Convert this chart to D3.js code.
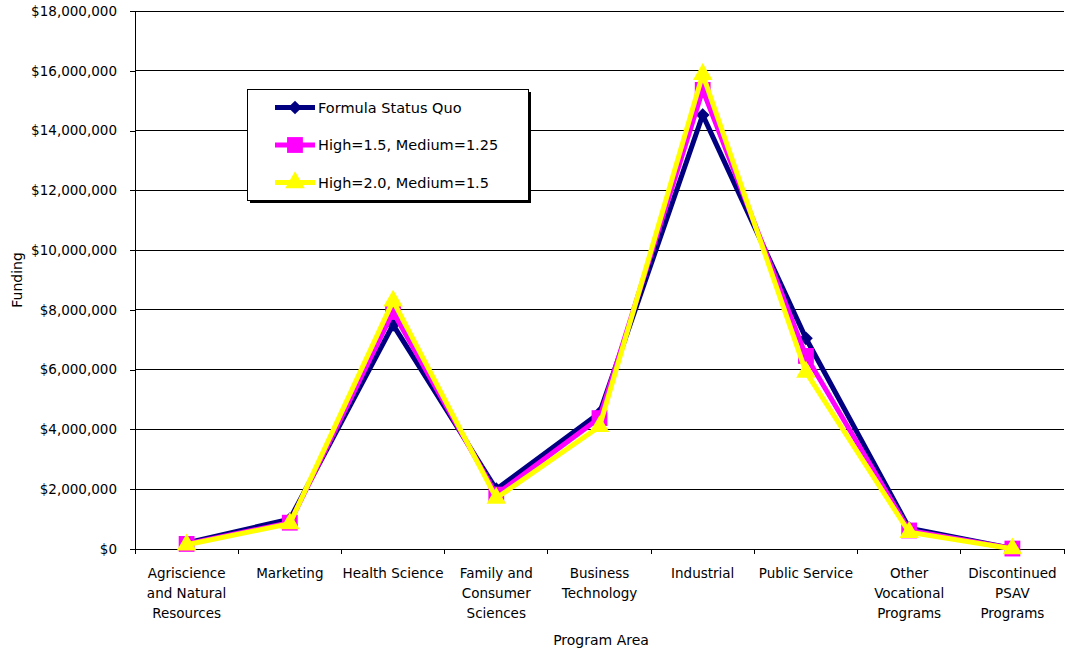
<!DOCTYPE html>
<html>
<head>
<meta charset="utf-8">
<script src="https://cdn.jsdelivr.net/npm/d3@7"></script>
<style>
  html, body { margin: 0; padding: 0; background: #fff; }
  svg { display: block; font-family: Tahoma, "DejaVu Sans", Verdana, sans-serif; }
</style>
</head>
<body>
<svg id="chart" width="1065" height="652"></svg>
<script>
// Program areas (label lines for wrapping)
const categories = [
  ["Agriscience", "and Natural", "Resources"],
  ["Marketing"],
  ["Health Science"],
  ["Family and", "Consumer", "Sciences"],
  ["Business", "Technology"],
  ["Industrial"],
  ["Public Service"],
  ["Other", "Vocational", "Programs"],
  ["Discontinued", "PSAV", "Programs"]
];

// Funding by program area, dollars
const statusQuo  = [200000, 1000000, 7500000, 2000000, 4550000, 14520000, 7050000, 700000, 20000];
const weighted15 = [170000,  880000, 7930000, 1820000, 4380000, 15360000, 6460000, 620000, 15000];
const weighted20 = [140000,  850000, 8300000, 1700000, 4100000, 15880000, 5920000, 560000, 10000];

const seriesNames = ["Formula Status Quo", "High=1.5, Medium=1.25", "High=2.0, Medium=1.5"];
const yTicks = [0, 2000000, 4000000, 6000000, 8000000, 10000000, 12000000, 14000000, 16000000, 18000000];

const series = [
  { name: seriesNames[0], values: statusQuo,  color: "#000080", symbol: d3.symbolDiamond2, size: 120 },
  { name: seriesNames[1], values: weighted15, color: "#ff00ff", symbol: d3.symbolSquare,   size: 250 },
  { name: seriesNames[2], values: weighted20, color: "#ffff00", symbol: d3.symbolTriangle, size: 165 }
];

const svg = d3.select("#chart");
const margin = { left: 135, right: 1, top: 11, bottom: 103 };
const W = 1065, H = 652;
const plotW = W - margin.left - margin.right;
const plotH = H - margin.top - margin.bottom;

const x = d3.scaleBand().domain(d3.range(categories.length)).range([margin.left, margin.left + plotW]);
const y = d3.scaleLinear().domain([0, 18000000]).range([margin.top + plotH, margin.top]);

const fontSize = 13.5;

// Horizontal gridlines
svg.append("g")
  .selectAll("line")
  .data(yTicks.slice(1))
  .join("line")
  .attr("x1", margin.left).attr("x2", margin.left + plotW)
  .attr("y1", d => y(d)).attr("y2", d => y(d))
  .attr("stroke", "#000").attr("stroke-width", 1)
  .attr("shape-rendering", "crispEdges");

// Y axis
const fmt = d => "$" + d3.format(",")(d);
const yAxis = svg.append("g")
  .attr("transform", `translate(${margin.left},0)`)
  .call(d3.axisLeft(y).tickValues(yTicks).tickFormat(fmt).tickSize(5).tickPadding(13));
yAxis.select(".domain").attr("stroke", "#000").attr("shape-rendering", "crispEdges");
yAxis.selectAll(".tick line").attr("stroke", "#000").attr("shape-rendering", "crispEdges");
yAxis.selectAll("text").attr("font-size", fontSize).attr("fill", "#000")
  .attr("font-family", "Tahoma, 'DejaVu Sans', sans-serif");

// X axis line with ticks at category boundaries
const xBase = y(0);
svg.append("line")
  .attr("x1", margin.left).attr("x2", margin.left + plotW)
  .attr("y1", xBase).attr("y2", xBase)
  .attr("stroke", "#000").attr("shape-rendering", "crispEdges");
svg.append("g")
  .selectAll("line")
  .data(d3.range(categories.length + 1))
  .join("line")
  .attr("x1", i => margin.left + i * x.step()).attr("x2", i => margin.left + i * x.step())
  .attr("y1", xBase).attr("y2", xBase + 5)
  .attr("stroke", "#000").attr("shape-rendering", "crispEdges");

// Category labels
const labelG = svg.append("g").attr("font-size", fontSize).attr("text-anchor", "middle");
categories.forEach((lines, i) => {
  const t = labelG.append("text")
    .attr("x", x(i) + x.bandwidth() / 2)
    .attr("y", xBase + 29);
  lines.forEach((ln, j) => {
    t.append("tspan").attr("x", x(i) + x.bandwidth() / 2).attr("dy", j === 0 ? 0 : 20).text(ln);
  });
});

// Axis titles
svg.append("text")
  .attr("x", 601).attr("y", 645)
  .attr("text-anchor", "middle").attr("font-size", fontSize + 0.5)
  .text("Program Area");
svg.append("text")
  .attr("transform", `translate(22, ${y(9000000)}) rotate(-90)`)
  .attr("text-anchor", "middle").attr("font-size", fontSize + 0.5)
  .text("Funding");

// Series lines and markers
const line = d3.line()
  .x((d, i) => x(i) + x.bandwidth() / 2)
  .y(d => y(d));

series.forEach(s => {
  const g = svg.append("g");
  g.append("path")
    .attr("d", line(s.values))
    .attr("fill", "none")
    .attr("stroke", s.color)
    .attr("stroke-width", 5)
    .attr("stroke-linejoin", "miter");
  g.selectAll("path.mark")
    .data(s.values)
    .join("path")
    .attr("class", "mark")
    .attr("transform", (d, i) => `translate(${x(i) + x.bandwidth() / 2},${y(d)})`)
    .attr("d", d3.symbol().type(s.symbol).size(s.size))
    .attr("fill", s.color);
});

// Legend with drop shadow
const lg = { x: 247, y: 89, w: 281, h: 111 };
svg.append("rect")
  .attr("x", lg.x + 3).attr("y", lg.y + 3).attr("width", lg.w).attr("height", lg.h)
  .attr("fill", "#000");
svg.append("rect")
  .attr("x", lg.x).attr("y", lg.y).attr("width", lg.w).attr("height", lg.h)
  .attr("fill", "#fff").attr("stroke", "#000").attr("stroke-width", 1)
  .attr("shape-rendering", "crispEdges");

series.forEach((s, i) => {
  const cy = lg.y + 18.5 + i * 37.5;
  const g = svg.append("g");
  g.append("line")
    .attr("x1", lg.x + 28).attr("x2", lg.x + 68)
    .attr("y1", cy).attr("y2", cy)
    .attr("stroke", s.color).attr("stroke-width", 5);
  g.append("path")
    .attr("transform", `translate(${lg.x + 48},${cy})`)
    .attr("d", d3.symbol().type(s.symbol).size(s.size))
    .attr("fill", s.color);
  g.append("text")
    .attr("x", lg.x + 71).attr("y", cy + 5)
    .attr("font-size", 14.5)
    .text(s.name);
});
</script>
</body>
</html>
